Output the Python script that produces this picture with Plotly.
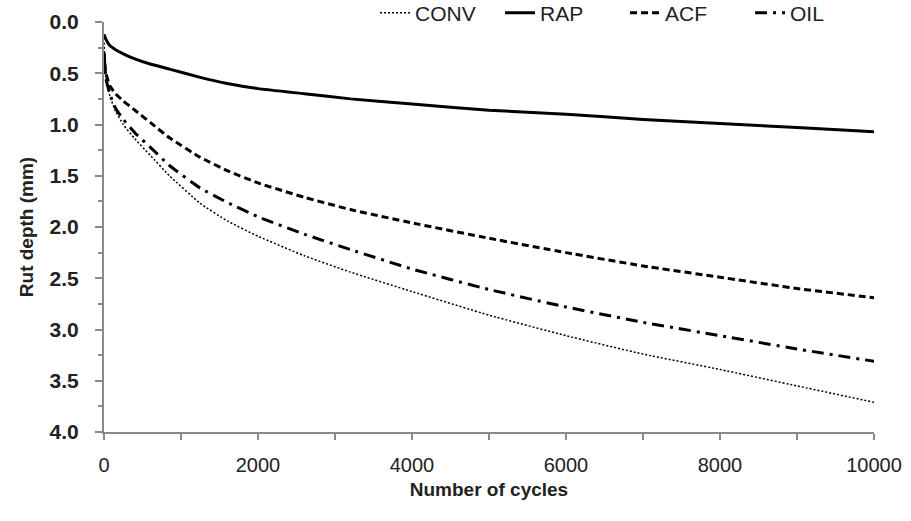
import plotly.graph_objects as go

cycles = [0, 25, 75, 150, 250, 400, 600, 850, 1250, 1600, 2000, 2600, 3200, 4000, 5000, 6000, 7000, 8000, 9000, 10000]
conv = [0.20, 0.55, 0.72, 0.87, 1.00, 1.14, 1.30, 1.50, 1.77, 1.94, 2.09, 2.28, 2.44, 2.63, 2.86, 3.06, 3.24, 3.39, 3.55, 3.71]
rap = [0.12, 0.17, 0.23, 0.27, 0.31, 0.36, 0.41, 0.46, 0.54, 0.60, 0.65, 0.70, 0.75, 0.80, 0.86, 0.90, 0.95, 0.99, 1.03, 1.07]
acf = [0.30, 0.50, 0.62, 0.70, 0.77, 0.86, 0.98, 1.13, 1.32, 1.45, 1.57, 1.71, 1.83, 1.96, 2.11, 2.25, 2.38, 2.49, 2.60, 2.69]
oil = [0.30, 0.55, 0.70, 0.84, 0.95, 1.08, 1.22, 1.40, 1.62, 1.76, 1.90, 2.07, 2.22, 2.41, 2.61, 2.78, 2.93, 3.06, 3.19, 3.31]

series = [
    ("CONV", conv, "2px,2px", 1.5),
    ("RAP", rap, "solid", 3),
    ("ACF", acf, "7px,4px", 3),
    ("OIL", oil, "12px,6px,3px,6px", 3),
]

fig = go.Figure()
for name, vals, dash, w in series:
    fig.add_trace(go.Scatter(
        x=cycles, y=vals, name=name, mode="lines",
        line=dict(color="black", dash=dash, width=w, shape="spline", smoothing=0.4),
    ))

font = "Liberation Sans, Arial, sans-serif"
gray = "#8a8a8a"
fig.update_layout(
    width=911, height=521,
    margin=dict(l=104, r=37, t=22, b=89, autoexpand=False),
    paper_bgcolor="white", plot_bgcolor="white",
    font=dict(family=font, color="#222", size=15),
    showlegend=True,
    legend=dict(orientation="h", x=0.352, xanchor="left", y=1.022, yanchor="middle",
                font=dict(size=21, color="#222", family=font), bgcolor="rgba(0,0,0,0)",
                entrywidth=80, entrywidthmode="pixels", tracegroupgap=0),
    xaxis=dict(
        range=[0, 10000], dtick=2000, tick0=0, tickformat="d",
        showgrid=False, zeroline=False,
        showline=True, linecolor=gray, linewidth=2,
        ticks="outside", ticklen=6, tickcolor=gray, tickwidth=2,
        minor=dict(dtick=1000, ticks="outside", ticklen=6, tickcolor=gray, tickwidth=2, showgrid=False),
        tickfont=dict(size=20, color="#222", family=font),
        ticklabelstandoff=8,
        title=dict(text="<b>Number of cycles</b>", font=dict(size=19, color="#222", family=font), standoff=8),
    ),
    yaxis=dict(
        range=[4, 0], dtick=0.5, tick0=0, tickformat=".1f",
        showgrid=False, zeroline=False,
        showline=True, linecolor=gray, linewidth=2,
        ticks="outside", ticklen=7, tickcolor=gray, tickwidth=2,
        minor=dict(dtick=0.25, ticks="outside", ticklen=4, tickcolor=gray, tickwidth=2, showgrid=False),
        tickfont=dict(size=21, color="#222", family=font, weight="bold"),
        ticklabelstandoff=12,
        title=dict(text="<b>Rut depth (mm)</b>", font=dict(size=19, color="#222", family=font), standoff=11),
    ),
)

fig.write_html("out.html", config={"displayModeBar": False},
               post_script="document.body.style.margin='0';")
